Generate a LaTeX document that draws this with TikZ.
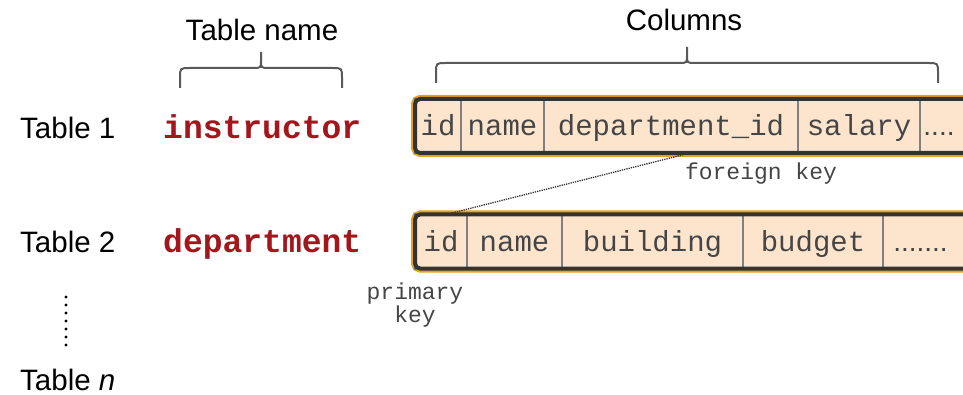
\documentclass[tikz,border=0pt]{standalone}
\usepackage{fontspec}
\setmainfont{Liberation Sans}
\setmonofont{Liberation Mono}
\usetikzlibrary{positioning}
\definecolor{cellfill}{HTML}{FDE5CD}
\definecolor{framedark}{HTML}{333333}
\definecolor{frameorange}{HTML}{E3A21A}
\definecolor{tablered}{HTML}{A3161C}
\definecolor{celltext}{HTML}{454545}
\definecolor{bracegray}{HTML}{5A5A5A}

\begin{document}
\begin{tikzpicture}[x=1pt,y=-1pt,
	rowlabel/.style={anchor=base west, inner sep=0pt, font=\fontsize{29.5}{31}\selectfont},
	headlabel/.style={anchor=base, inner sep=0pt, font=\fontsize{29.5}{31}\selectfont},
	tname/.style={anchor=base west, inner sep=0pt, text=tablered, font=\fontsize{33}{35}\selectfont\ttfamily\bfseries},
	cell/.style={draw=gray, line width=2pt, fill=cellfill, minimum height=54pt, inner sep=0pt, outer sep=0pt, text=celltext, text height=22pt, text depth=2pt, font=\fontsize{29}{30}\selectfont\ttfamily},
	dotcell/.style={cell, font=\fontsize{28}{30}\selectfont\rmfamily},
	keynote/.style={anchor=base, inner sep=0pt, text=celltext, align=center, font=\fontsize{23}{23}\selectfont\ttfamily},
	orangeframe/.style={draw=frameorange, line width=8pt, rounded corners=5pt},
	darkframe/.style={draw=framedark, line width=4pt, rounded corners=5pt},
	bracepen/.style={draw=bracegray, line width=2pt},
	fkline/.style={draw=framedark, line width=1.3pt, densely dotted},
	vdots/.style={draw=black, line width=3.2pt, line cap=round, dash pattern=on 0pt off 8pt}]
	\clip (0,0) rectangle (963,395);
	\node[headlabel] (hname) at (262,41) {Table name};
	\node[headlabel] (hcols) at (684,31) {Columns};
	\draw[bracepen] (180,88) -- (180,78) .. controls (180,68) .. (190,68) -- (253,68) .. controls (261,68) .. (261,60) -- (261,52)
		(261,60) .. controls (261,68) .. (269,68) -- (332,68) .. controls (342,68) .. (342,78) -- (342,88);
	\draw[bracepen] (436,83) -- (436,73) .. controls (436,63) .. (446,63) -- (679,63) .. controls (687,63) .. (687,55) -- (687,47)
		(687,55) .. controls (687,63) .. (695,63) -- (928,63) .. controls (938,63) .. (938,73) -- (938,83);
	\node[rowlabel] (t1) at (20,139) {Table 1};
	\node[rowlabel] (t2) at (20,253) {Table 2};
	\node[rowlabel] (tn) at (20,390) {Table \textit{n}};
	\node[tname] (n1) at (163,139) {instructor};
	\node[tname] (n2) at (163,253) {department};
	\coordinate (dtop) at (66,297);
	\coordinate (dbot) at (66,345);
	\draw[vdots] (dtop) -- (dbot);
	\draw[orangeframe] (415,99) rectangle (1000,153);
	\node[cell, minimum width=46pt, anchor=west] (i1) at (415,126) {id};
	\node[cell, minimum width=83pt, right=0pt of i1] (i2) {name};
	\node[cell, minimum width=254pt, right=0pt of i2] (i3) {department\_id};
	\node[cell, minimum width=122pt, right=0pt of i3] (i4) {salary};
	\node[dotcell, minimum width=80pt, right=0pt of i4] (i5) {\hspace*{-42pt}....};
	\draw[darkframe] (415,99) rectangle (1000,153);
	\draw[orangeframe] (415,214.5) rectangle (1000,268.5);
	\node[cell, minimum width=52pt, anchor=west] (d1) at (415,241.5) {id};
	\node[cell, minimum width=95pt, right=0pt of d1] (d2) {name};
	\node[cell, minimum width=181pt, right=0pt of d2] (d3) {building};
	\node[cell, minimum width=140pt, right=0pt of d3] (d4) {budget};
	\node[dotcell, minimum width=117pt, right=0pt of d4] (d5) {\hspace*{-42pt}.......};
	\draw[darkframe] (415,214.5) rectangle (1000,268.5);
	\draw[fkline] ([xshift=19pt]i3.south) -- ([xshift=5pt]d1.north);
	\node[keynote] (fk) at (761,180) {foreign key};
	\node[keynote] (pk) at (415,322) {primary\\key};
\end{tikzpicture}
\end{document}
